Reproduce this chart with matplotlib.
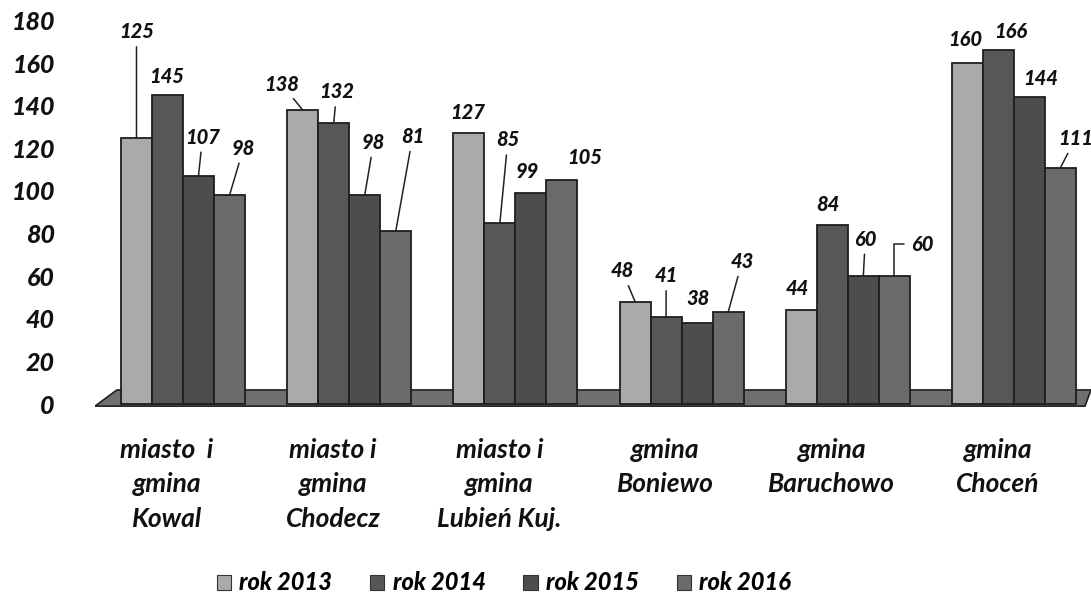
import matplotlib
matplotlib.use("Agg")
import matplotlib.pyplot as plt
from matplotlib.patches import Patch, Polygon
from matplotlib.transforms import ScaledTranslation, blended_transform_factory
import numpy as np

plt.rcParams['font.family'] = ['Lato', 'DejaVu Sans']

categories = ["miasto  i\ngmina\nKowal", "miasto i\ngmina\nChodecz", "miasto i\ngmina\nLubień Kuj.",
              "gmina\nBoniewo", "gmina\nBaruchowo", "gmina\nChoceń"]
series_names = ["rok 2013", "rok 2014", "rok 2015", "rok 2016"]
rok_2013 = [125, 138, 127, 48, 44, 160]
rok_2014 = [145, 132, 85, 41, 84, 166]
rok_2015 = [107, 98, 99, 38, 60, 144]
rok_2016 = [98, 81, 105, 43, 60, 111]
yticks = [0, 20, 40, 60, 80, 100, 120, 140, 160, 180]

series = [rok_2013, rok_2014, rok_2015, rok_2016]
colors = ["#aaaaaa", "#575757", "#4d4d4d", "#6b6b6b"]

# label offsets in pixels (dx, dy up) and whether a leader line is drawn
label_offsets = [
    [(0, 106, True), (-1, 19, False), (4, 39, True), (14, 47, True)],
    [(-21, 26, True), (3, 31, True), (9, 53, True), (17, 95, True)],
    [(-1, 21, False), (8, 83, True), (-4, 22, False), (23, 23, False)],
    [(-13, 31, True), (0, 41, True), (1, 25, False), (14, 51, True)],
    [(-4, 22, False), (-4, 21, False), (2, 37, True), (28, 32, 'elbow')],
    [(-2, 24, False), (12, 19, False), (11, 19, False), (15, 29, True)],
]

W, H, DPI = 1091, 595, 100
fig = plt.figure(figsize=(W / DPI, H / DPI), dpi=DPI)

ax_left, ax_right = 95, 1091
ax_top, ax_bot = 5, 410
zero_px, px_per_unit = 404, 2.13
ax = fig.add_axes([ax_left / W, 1 - ax_bot / H, (ax_right - ax_left) / W, (ax_bot - ax_top) / H])

cat_px = 166.2
a = -(183 - ax_left) / cat_px
ax.set_xlim(a, a + (ax_right - ax_left) / cat_px)
ax.set_ylim(-(ax_bot - zero_px) / px_per_unit, (zero_px - ax_top) / px_per_unit)

HEAVY = 900

# floor (3D base)
trans = blended_transform_factory(ax.transAxes, ax.transData)
floor = Polygon([(0.0, -1.0), (0.022, 6.6), (1.0, 6.6), (0.994, -1.0)], closed=True,
                transform=trans, facecolor="#6f6f6f", edgecolor="#222222", lw=1.2, zorder=1)
ax.add_patch(floor)

x = np.arange(len(categories))
bw = 31 / cat_px
for j, (vals, col) in enumerate(zip(series, colors)):
    xs = x + (j - 1.5) * bw
    ax.bar(xs, vals, width=bw, color=col, edgecolor="#1e1e1e", lw=1.3, zorder=2 + j)
    for i, v in enumerate(vals):
        dx, dy, lead = label_offsets[i][j]
        arrow = None
        if lead is True:
            arrow = dict(arrowstyle='-', color='#222222', lw=1.1, shrinkA=2, shrinkB=0)
        elif lead == 'elbow':
            arrow = dict(arrowstyle='-', color='#222222', lw=1.1, shrinkA=3, shrinkB=0,
                         connectionstyle='angle,angleA=0,angleB=90,rad=0')
        ax.annotate(str(v), xy=(xs[i], v), xytext=(dx, dy), textcoords='offset pixels',
                    ha='center', va='center', fontsize=14.5, fontweight=HEAVY, fontstyle='italic',
                    color='#111111', arrowprops=arrow, annotation_clip=False, zorder=10)

ax.set_yticks(yticks)
ax.set_yticklabels([str(t) for t in yticks], fontsize=18, fontweight=HEAVY, fontstyle='italic',
                   color='#111111')
ax.tick_params(axis='y', length=0, pad=29)
ax.set_xticks(x)
ax.set_xticklabels(categories, fontsize=19, fontweight='bold', fontstyle='italic',
                   color='#111111', linespacing=1.52, va='top')
ax.tick_params(axis='x', length=0, pad=20)
off = ScaledTranslation(-16 / DPI, 0, fig.dpi_scale_trans)
for lbl in ax.get_xticklabels():
    lbl.set_transform(lbl.get_transform() + off)

for s in ax.spines.values():
    s.set_visible(False)
ax.set_facecolor('none')

handles = [Patch(facecolor=c, edgecolor='#333333', lw=0.8) for c in colors]
fig.legend(handles, series_names, loc='center', bbox_to_anchor=(504 / W, 1 - 583 / H),
           ncol=4, frameon=False, handlelength=0.6, handleheight=0.6, handletextpad=0.35,
           columnspacing=1.6, prop=dict(family=['Lato', 'DejaVu Sans'], size=17,
                                        weight=HEAVY, style='italic'))

fig.savefig("out.png", dpi=DPI)
